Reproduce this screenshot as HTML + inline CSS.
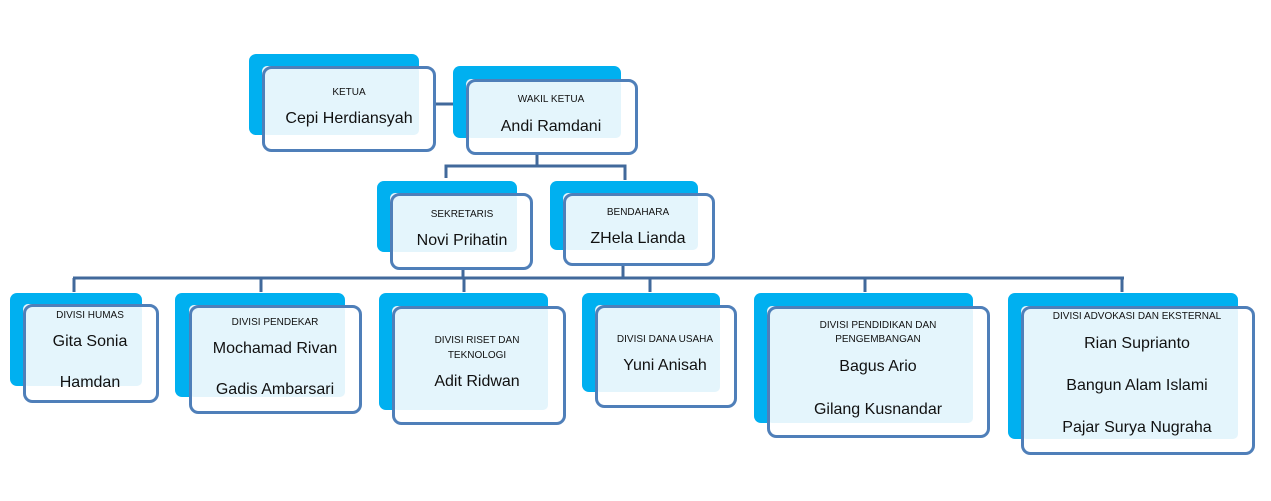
<!DOCTYPE html>
<html><head><meta charset="utf-8"><style>
html,body{margin:0;padding:0;background:#fff;}
svg{display:block;}
text{font-family:"Liberation Sans",sans-serif;fill:#111;text-anchor:middle;}
.t{font-size:10px;}
.n{font-size:16px;}
</style></head><body>
<svg width="1271" height="501" viewBox="0 0 1271 501" xmlns="http://www.w3.org/2000/svg">
<g stroke="#41699b" stroke-width="3" fill="none">
<line x1="436" y1="104" x2="454" y2="104"/>
<line x1="537" y1="155" x2="537" y2="166"/>
<polyline points="446,178 446,166 625,166 625,180"/>
<line x1="463" y1="270" x2="463" y2="278"/>
<line x1="623" y1="266" x2="623" y2="278"/>
<line x1="73" y1="278" x2="1124" y2="278"/>
<line x1="74" y1="278" x2="74" y2="292"/>
<line x1="261" y1="278" x2="261" y2="292"/>
<line x1="464" y1="278" x2="464" y2="292"/>
<line x1="650" y1="278" x2="650" y2="292"/>
<line x1="865" y1="278" x2="865" y2="292"/>
<line x1="1122" y1="278" x2="1122" y2="292"/>
</g>

<!-- node template: back blue, front white, overlap light, border -->
<g>
<!-- KETUA -->
<rect x="249" y="54" width="170" height="81" rx="7" fill="#00b0f0"/>
<rect x="262" y="66" width="174" height="86" rx="8" fill="#fff"/>
<rect x="262" y="66" width="157" height="69" rx="5" fill="#e4f5fc"/>
<rect x="263.5" y="67.5" width="171" height="83" rx="8" fill="none" stroke="#4f7fb9" stroke-width="3"/>
<!-- WAKIL -->
<rect x="453" y="66" width="168" height="72" rx="7" fill="#00b0f0"/>
<rect x="466" y="79" width="172" height="76" rx="8" fill="#fff"/>
<rect x="466" y="79" width="155" height="59" rx="5" fill="#e4f5fc"/>
<rect x="467.5" y="80.5" width="169" height="73" rx="8" fill="none" stroke="#4f7fb9" stroke-width="3"/>
<!-- SEKRETARIS -->
<rect x="377" y="181" width="140" height="71" rx="7" fill="#00b0f0"/>
<rect x="390" y="193" width="143" height="77" rx="8" fill="#fff"/>
<rect x="390" y="193" width="127" height="59" rx="5" fill="#e4f5fc"/>
<rect x="391.5" y="194.5" width="140" height="74" rx="8" fill="none" stroke="#4f7fb9" stroke-width="3"/>
<!-- BENDAHARA -->
<rect x="550" y="181" width="148" height="69" rx="7" fill="#00b0f0"/>
<rect x="563" y="193" width="152" height="73" rx="8" fill="#fff"/>
<rect x="563" y="193" width="135" height="57" rx="5" fill="#e4f5fc"/>
<rect x="564.5" y="194.5" width="149" height="70" rx="8" fill="none" stroke="#4f7fb9" stroke-width="3"/>
<!-- HUMAS -->
<rect x="10" y="293" width="132" height="93" rx="7" fill="#00b0f0"/>
<rect x="23" y="304" width="136" height="99" rx="8" fill="#fff"/>
<rect x="23" y="304" width="119" height="82" rx="5" fill="#e4f5fc"/>
<rect x="24.5" y="305.5" width="133" height="96" rx="8" fill="none" stroke="#4f7fb9" stroke-width="3"/>
<!-- PENDEKAR -->
<rect x="175" y="293" width="170" height="104" rx="7" fill="#00b0f0"/>
<rect x="189" y="305" width="173" height="109" rx="8" fill="#fff"/>
<rect x="189" y="305" width="156" height="92" rx="5" fill="#e4f5fc"/>
<rect x="190.5" y="306.5" width="170" height="106" rx="8" fill="none" stroke="#4f7fb9" stroke-width="3"/>
<!-- RISET -->
<rect x="379" y="293" width="169" height="117" rx="7" fill="#00b0f0"/>
<rect x="392" y="306" width="174" height="119" rx="8" fill="#fff"/>
<rect x="392" y="306" width="156" height="104" rx="5" fill="#e4f5fc"/>
<rect x="393.5" y="307.5" width="171" height="116" rx="8" fill="none" stroke="#4f7fb9" stroke-width="3"/>
<!-- DANA -->
<rect x="582" y="293" width="138" height="99" rx="7" fill="#00b0f0"/>
<rect x="595" y="305" width="142" height="103" rx="8" fill="#fff"/>
<rect x="595" y="305" width="125" height="87" rx="5" fill="#e4f5fc"/>
<rect x="596.5" y="306.5" width="139" height="100" rx="8" fill="none" stroke="#4f7fb9" stroke-width="3"/>
<!-- PENDIDIKAN -->
<rect x="754" y="293" width="219" height="130" rx="7" fill="#00b0f0"/>
<rect x="767" y="306" width="223" height="132" rx="8" fill="#fff"/>
<rect x="767" y="306" width="206" height="117" rx="5" fill="#e4f5fc"/>
<rect x="768.5" y="307.5" width="220" height="129" rx="8" fill="none" stroke="#4f7fb9" stroke-width="3"/>
<!-- ADVOKASI -->
<rect x="1008" y="293" width="230" height="146" rx="7" fill="#00b0f0"/>
<rect x="1021" y="306" width="234" height="149" rx="8" fill="#fff"/>
<rect x="1021" y="306" width="217" height="133" rx="5" fill="#e4f5fc"/>
<rect x="1022.5" y="307.5" width="231" height="146" rx="8" fill="none" stroke="#4f7fb9" stroke-width="3"/>
</g>

<text class="t" x="349" y="95">KETUA</text>
<text class="n" x="349" y="123">Cepi Herdiansyah</text>
<text class="t" x="551" y="102">WAKIL KETUA</text>
<text class="n" x="551" y="131">Andi Ramdani</text>
<text class="t" x="462" y="217">SEKRETARIS</text>
<text class="n" x="462" y="245">Novi Prihatin</text>
<text class="t" x="638" y="215">BENDAHARA</text>
<text class="n" x="638" y="243">ZHela Lianda</text>

<text class="t" x="90" y="318">DIVISI HUMAS</text>
<text class="n" x="90" y="346">Gita Sonia</text>
<text class="n" x="90" y="387">Hamdan</text>

<text class="t" x="275" y="325">DIVISI PENDEKAR</text>
<text class="n" x="275" y="353">Mochamad Rivan</text>
<text class="n" x="275" y="394">Gadis Ambarsari</text>

<text class="t" x="477" y="343">DIVISI RISET DAN</text>
<text class="t" x="477" y="358">TEKNOLOGI</text>
<text class="n" x="477" y="386">Adit Ridwan</text>

<text class="t" x="665" y="342">DIVISI DANA USAHA</text>
<text class="n" x="665" y="370">Yuni Anisah</text>

<text class="t" x="878" y="328">DIVISI PENDIDIKAN DAN</text>
<text class="t" x="878" y="342">PENGEMBANGAN</text>
<text class="n" x="878" y="371">Bagus Ario</text>
<text class="n" x="878" y="414">Gilang Kusnandar</text>

<text class="t" x="1137" y="319">DIVISI ADVOKASI DAN EKSTERNAL</text>
<text class="n" x="1137" y="348">Rian Suprianto</text>
<text class="n" x="1137" y="390">Bangun Alam Islami</text>
<text class="n" x="1137" y="432">Pajar Surya Nugraha</text>
</svg>
</body></html>
